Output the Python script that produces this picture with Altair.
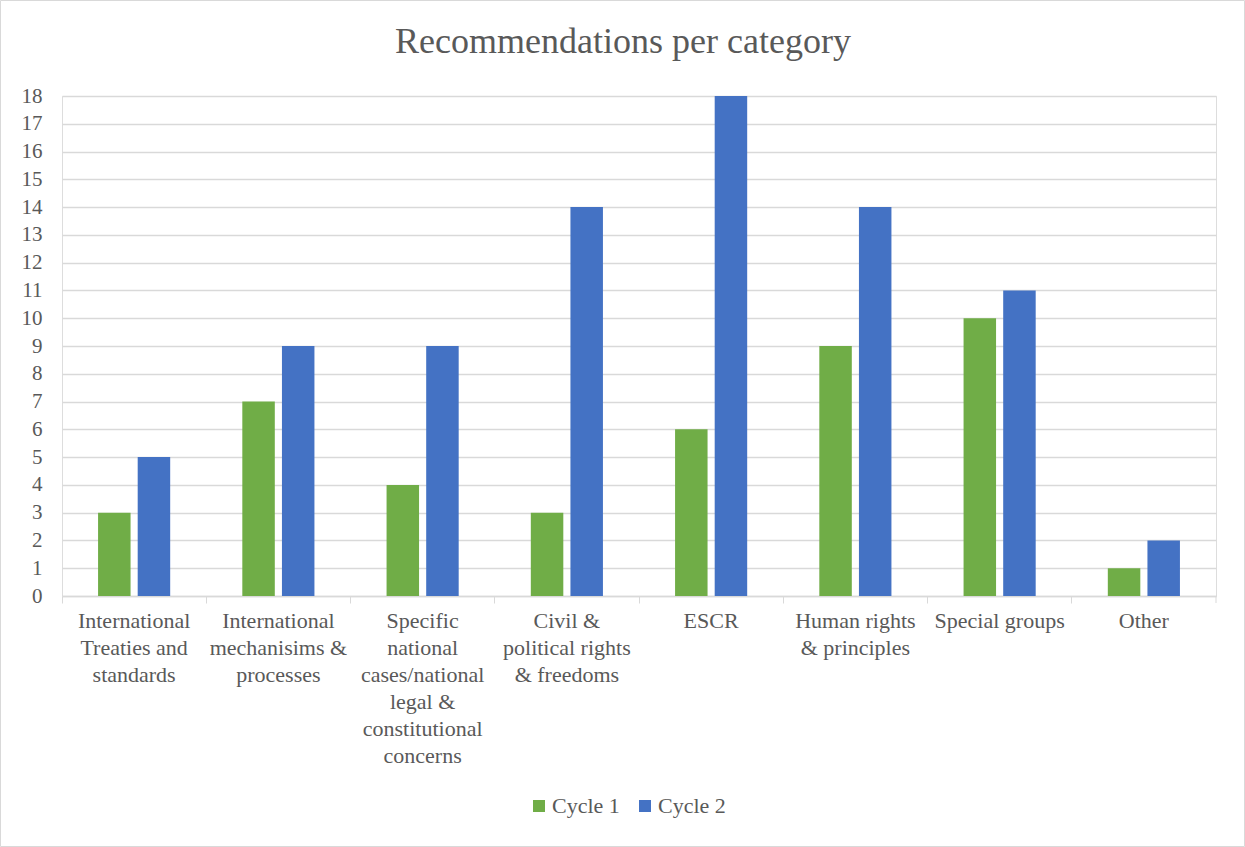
import altair as alt
import pandas as pd

categories = [
    "International|Treaties and|standards",
    "International|mechanisims &|processes",
    "Specific|national|cases/national|legal &|constitutional|concerns",
    "Civil &|political rights|& freedoms",
    "ESCR",
    "Human rights|& principles",
    "Special groups",
    "Other",
]
cycle1 = [3, 7, 4, 3, 6, 9, 10, 1]
cycle2 = [5, 9, 9, 14, 18, 14, 11, 2]
series = ["Cycle 1", "Cycle 2"]
colors = ["#70AD47", "#4472C4"]

rows = []
for c, a, b in zip(categories, cycle1, cycle2):
    rows.append({"category": c, "series": "Cycle 1", "value": a})
    rows.append({"category": c, "series": "Cycle 2", "value": b})
df = pd.DataFrame(rows)

FONT = "Liberation Serif"
GRAY = "#595959"
W, H = 1154, 500

bars = alt.Chart(df).mark_bar().encode(
    x=alt.X("category:N", sort=categories, title=None,
            scale=alt.Scale(paddingInner=0, paddingOuter=0),
            axis=alt.Axis(labelExpr="split(datum.label, '|')", labelAngle=0,
                          bandPosition=0, tickSize=7, tickColor="#d9d9d9",
                          domainColor="#d9d9d9", domainWidth=1.3,
                          labelFont=FONT, labelFontSize=22, labelColor=GRAY,
                          labelPadding=7, labelLineHeight=27, labelBaseline="top",
                          grid=False)),
    xOffset=alt.XOffset("series:N", sort=series,
                        scale=alt.Scale(paddingInner=0.18, paddingOuter=0.91)),
    y=alt.Y("value:Q", title=None,
            scale=alt.Scale(domain=[0, 18], nice=False),
            axis=alt.Axis(values=list(range(0, 19)), ticks=False, domain=False,
                          gridColor="#d9d9d9", gridWidth=1.3,
                          labelFont=FONT, labelFontSize=21, labelColor=GRAY,
                          labelPadding=20)),
    color=alt.Color("series:N", sort=series,
                    scale=alt.Scale(domain=series, range=colors),
                    legend=alt.Legend(title=None, orient="none", direction="horizontal",
                                      legendX=466, legendY=699,
                                      symbolType="square", symbolSize=144,
                                      symbolStrokeWidth=0,
                                      labelFont=FONT, labelFontSize=22, labelColor=GRAY,
                                      columnPadding=14, labelOffset=2)),
)

end_tick = alt.Chart(pd.DataFrame({"a": [0]})).mark_rule(color="#d9d9d9", strokeWidth=1).encode(
    x=alt.value(W), y=alt.value(H), y2=alt.value(H + 7)
)

border = alt.Chart(pd.DataFrame({"a": [0]})).mark_rect(
    fill=None, stroke="#d9d9d9", strokeWidth=1
).encode(
    x=alt.value(-61.5), x2=alt.value(W + 28.5),
    y=alt.value(-95.5), y2=alt.value(H + 250.5)
)

chart = alt.layer(bars, end_tick, border).properties(
    width=W, height=H,
    title=alt.Title("Recommendations per category", font=FONT, fontSize=36,
                    fontWeight="normal", color=GRAY, anchor="middle", offset=-61, dx=-16),
    autosize=alt.AutoSizeParams(type="none"),
    padding={"left": 62, "top": 96, "right": 29, "bottom": 251},
).configure_view(stroke=None).configure(background="white")

chart.save("out.html", embed_options={"renderer": "svg", "actions": False})
